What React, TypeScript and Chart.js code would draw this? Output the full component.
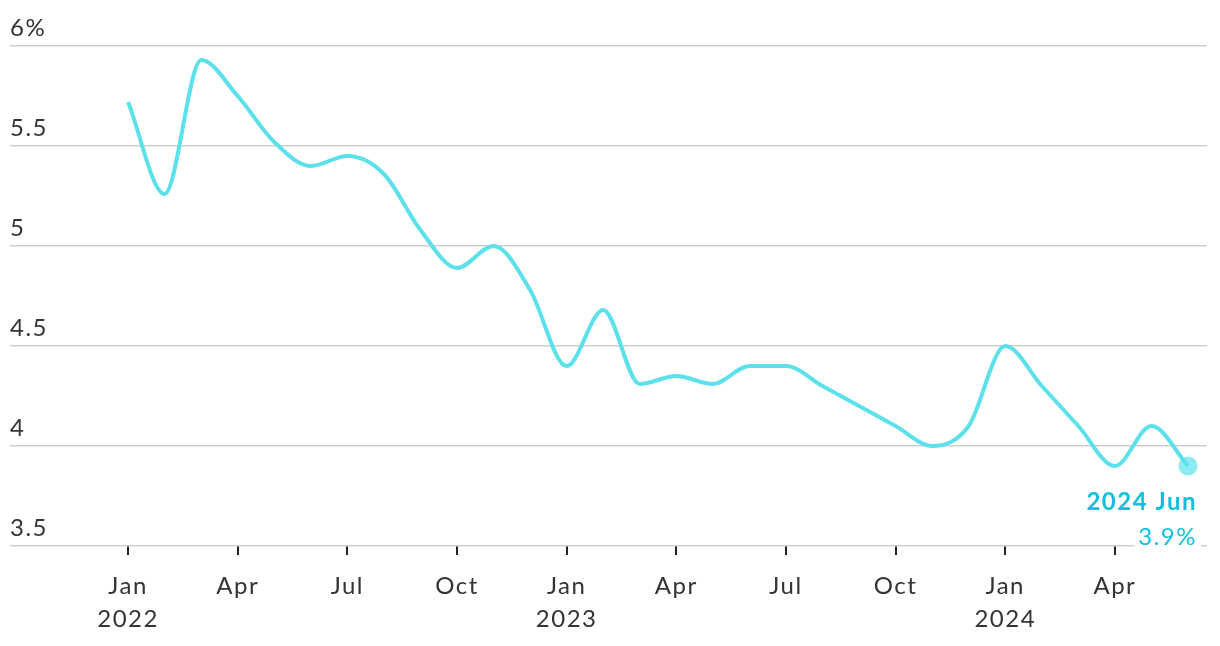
import React, { useEffect, useRef } from "react";
import { Chart, registerables } from "chart.js";

Chart.register(...registerables);

const months = ["Jan", "Feb", "Mar", "Apr", "May", "Jun", "Jul", "Aug", "Sep", "Oct", "Nov", "Dec"];
const years = [2022, 2023, 2024];
const values = [
  5.72, 5.26, 5.93, 5.75, 5.52, 5.4, 5.45, 5.36, 5.08, 4.89, 5.0, 4.78,
  4.4, 4.68, 4.31, 4.35, 4.31, 4.4, 4.4, 4.3, 4.2, 4.1, 4.0, 4.1,
  4.5, 4.3, 4.1, 3.9, 4.1, 3.9,
];
const yTickLabels = ["3.5", "4", "4.5", "5", "5.5", "6%"];
const yTickValues = [3.5, 4, 4.5, 5, 5.5, 6];
const endLabel = "2024 Jun";
const endValueLabel = "3.9%";

const FONT = "Lato, 'Open Sans', sans-serif";
const LINE = "#5ce1eb";
const ACCENT = "#11bfdc";
const SPACING = "1.5px";

export default function App() {
  const ref = useRef<HTMLCanvasElement | null>(null);
  useEffect(() => {
    if (!ref.current) return;
    const pts = values.map((v, i) => ({ x: i, y: v }));
    const n = values.length;

    const overlay = {
      id: "overlay",
      beforeLayout(chart: any) {
        (chart.ctx as any).letterSpacing = SPACING;
      },
      beforeDraw(chart: any) {
        (chart.ctx as any).letterSpacing = SPACING;
      },
      afterDraw(chart: any) {
        const ctx = chart.ctx;
        const y = chart.scales.y;
        const x = chart.scales.x;
        ctx.save();
        (ctx as any).letterSpacing = SPACING;
        ctx.font = `24px ${FONT}`;
        ctx.fillStyle = "#333333";
        ctx.textAlign = "left";
        ctx.textBaseline = "alphabetic";
        yTickValues.forEach((v, i) => {
          ctx.fillText(yTickLabels[i], 10, y.getPixelForValue(v) - 10);
        });
        const lx = x.getPixelForValue(n - 1);
        const ly = y.getPixelForValue(values[n - 1]);
        ctx.fillStyle = "rgba(92,225,235,0.7)";
        ctx.beginPath();
        ctx.arc(lx, ly, 9.5, 0, Math.PI * 2);
        ctx.fill();
        ctx.textAlign = "right";
        ctx.textBaseline = "middle";
        ctx.font = `bold 24px ${FONT}`;
        ctx.fillStyle = ACCENT;
        ctx.fillText(endLabel, lx + 9, ly + 36);
        ctx.font = `24px ${FONT}`;
        const w = ctx.measureText(endValueLabel).width;
        ctx.fillStyle = "#ffffff";
        ctx.fillRect(lx + 9 - w - 4, ly + 56, w + 8, 28);
        ctx.fillStyle = ACCENT;
        ctx.fillText(endValueLabel, lx + 9, ly + 71);
        ctx.restore();
      },
    };

    const chart = new Chart(ref.current, {
      type: "line",
      data: {
        datasets: [
          {
            data: pts,
            borderColor: LINE,
            borderWidth: 4,
            pointRadius: 0,
            cubicInterpolationMode: "monotone",
            fill: false,
          },
        ],
      },
      options: {
        animation: false,
        responsive: false,
        maintainAspectRatio: false,
        layout: { padding: { left: 10, right: 13, top: 46, bottom: 0 } },
        plugins: { legend: { display: false }, tooltip: { enabled: false } },
        scales: {
          x: {
            type: "linear",
            min: -3.23,
            max: 29.52,
            afterBuildTicks: (scale: any) => {
              const t = [];
              for (let i = 0; i < n; i += 3) t.push({ value: i });
              scale.ticks = t;
            },
            afterFit: (scale: any) => {
              scale.height = 100;
            },
            border: { display: false },
            grid: {
              drawOnChartArea: false,
              drawTicks: true,
              tickLength: 9,
              color: "#222222",
              lineWidth: 2,
            },
            ticks: {
              autoSkip: false,
              maxRotation: 0,
              padding: 15,
              color: "#333333",
              font: { family: FONT, size: 24, lineHeight: 1.38 },
              callback: (v: any) => {
                const i = Math.round(Number(v));
                const m = months[i % 12];
                if (i % 12 === 0) return [m, String(years[Math.floor(i / 12)])];
                return m;
              },
            },
          },
          y: {
            min: 3.5,
            max: 6,
            afterBuildTicks: (scale: any) => {
              scale.ticks = yTickValues.map((v) => ({ value: v }));
            },
            afterFit: (scale: any) => {
              scale.width = 0;
            },
            border: { display: false },
            grid: { color: "#cfcfcf", lineWidth: 1.6, drawTicks: false },
            ticks: { display: false },
          },
        },
      },
      plugins: [overlay],
    } as any);
    return () => chart.destroy();
  }, []);
  return (
    <div style={{ position: "absolute", left: 0, top: 0, width: 1220, height: 646, background: "#fff" }}>
      <canvas ref={ref} width={1220} height={646} style={{ width: 1220, height: 646 }} />
    </div>
  );
}
